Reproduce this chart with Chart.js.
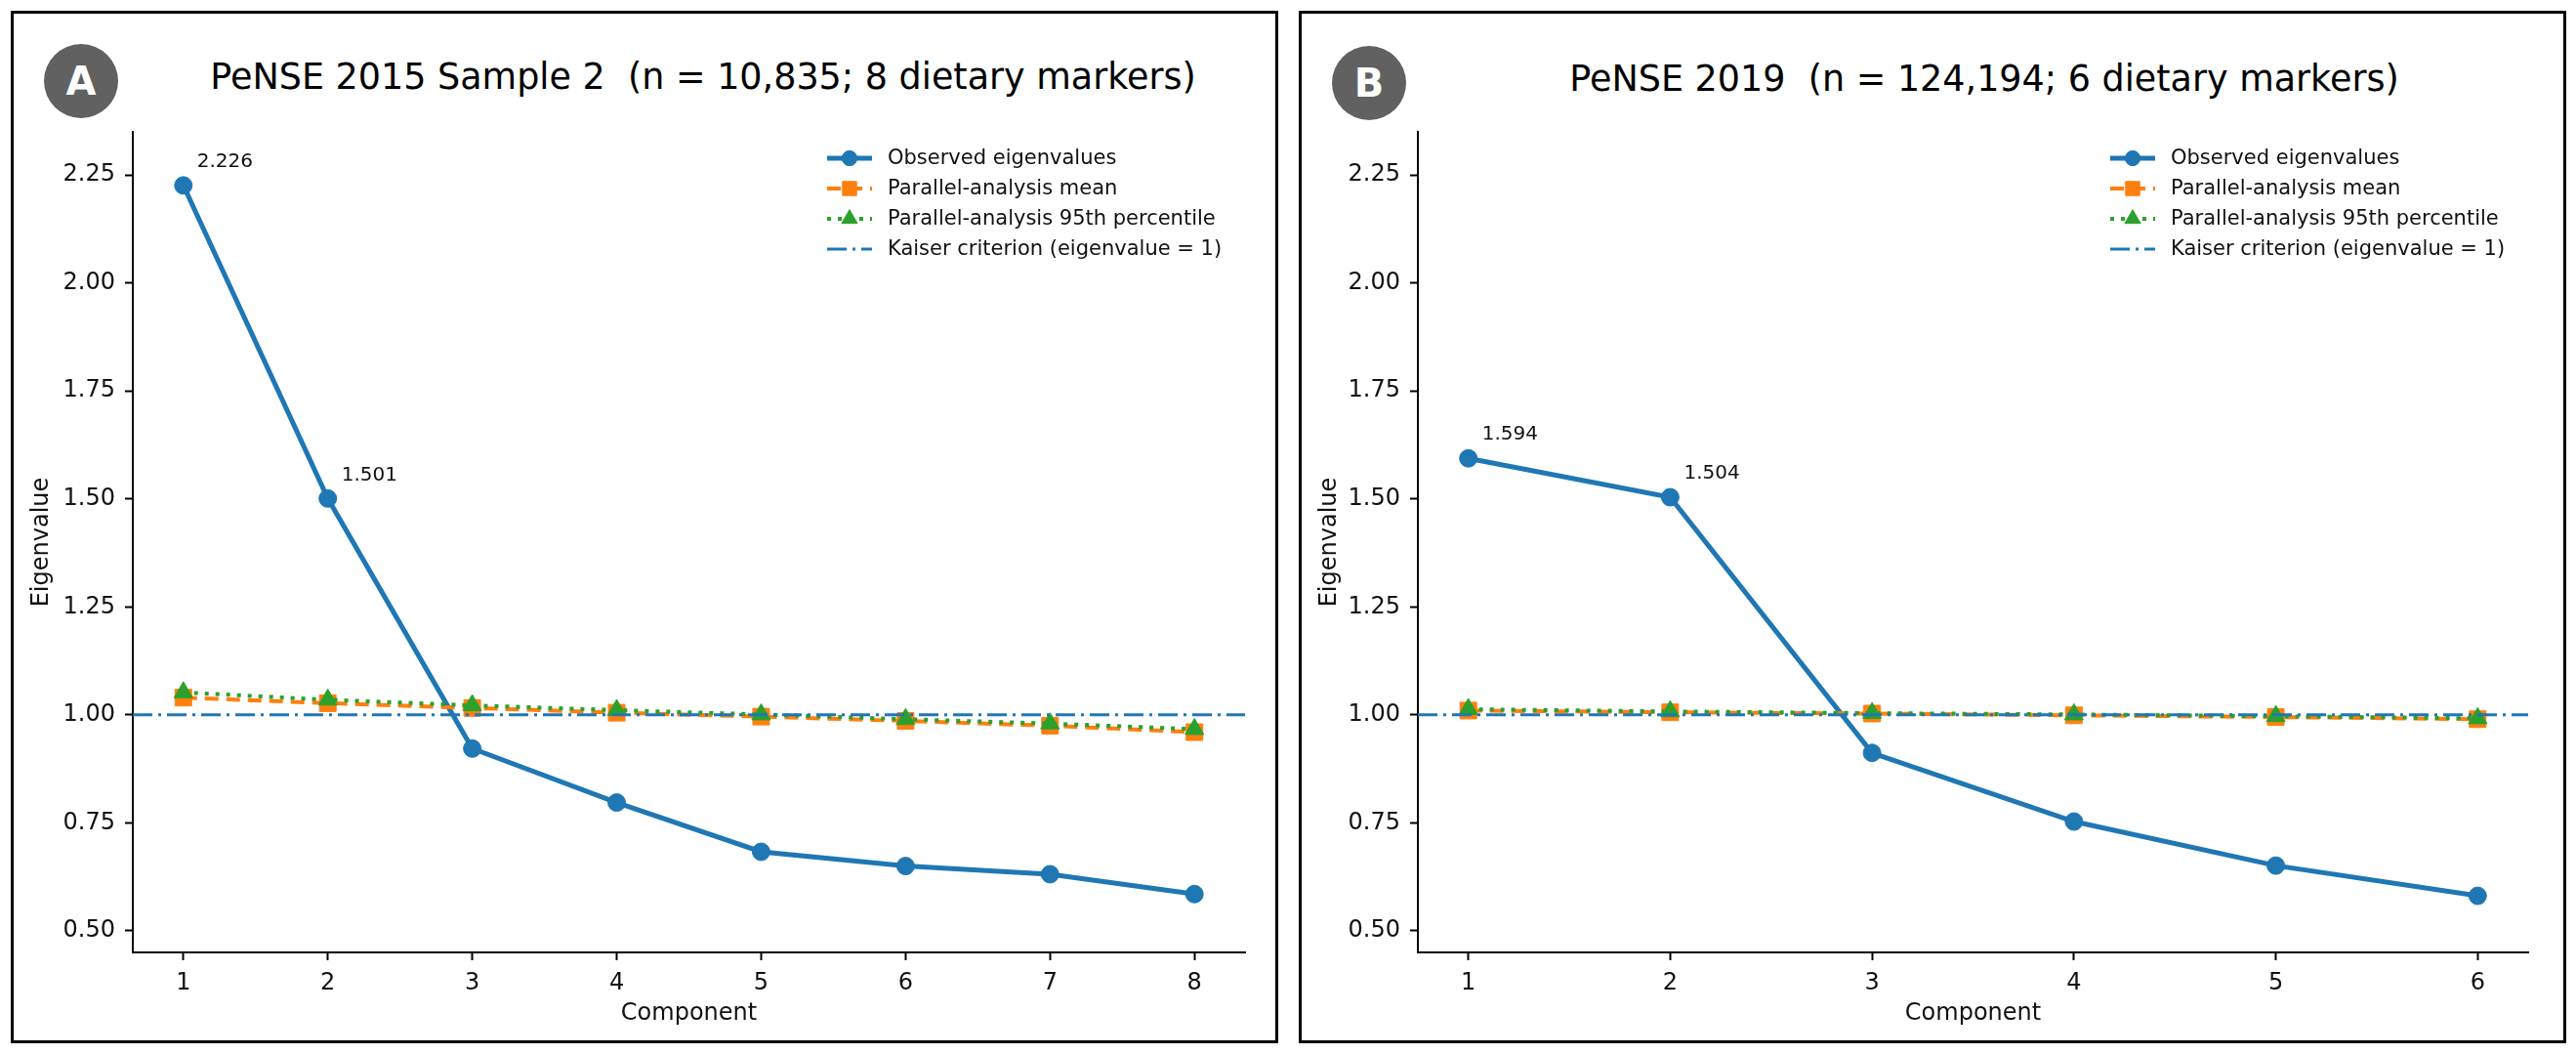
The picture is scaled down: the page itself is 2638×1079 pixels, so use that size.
<!DOCTYPE html>
<html>
<head>
<meta charset="utf-8">
<script src="https://cdn.jsdelivr.net/npm/chart.js@4.4.0/dist/chart.umd.min.js"></script>
<style>
  body { margin: 0; background: #fff; font-family: "DejaVu Sans", sans-serif; }
  .panel { position: absolute; top: 11px; width: 1292px; height: 1051px; border: 3px solid #000; background: #fff; }
  .panel canvas { position: absolute; left: 0; top: 0; }
  .badge { position: absolute; width: 76px; height: 76px; border-radius: 50%; background: #616161;
           color: #fff; font-weight: bold; font-size: 40px; display: flex; align-items: center; justify-content: center; }
  .title { position: absolute; font-size: 36.5px; line-height: 40px; white-space: nowrap; color: #000; transform: translateX(-50%); }
</style>
</head>
<body>
<div class="panel" id="panelA" style="left:11px">
  <div class="badge" style="left:31px; top:31px">A</div>
  <div class="title" style="left:706px; top:45px">PeNSE 2015 Sample 2&nbsp; (n = 10,835; 8 dietary markers)</div>
  <canvas id="chartA" width="1292" height="1051"></canvas>
</div>
<div class="panel" id="panelB" style="left:1330px">
  <div class="badge" style="left:31px; top:33px">B</div>
  <div class="title" style="left:699px; top:47px">PeNSE 2019&nbsp; (n = 124,194; 6 dietary markers)</div>
  <canvas id="chartB" width="1292" height="1051"></canvas>
</div>
<script>
// panel A: PeNSE 2015 sample 2, 8 markers
const componentsA = [1, 2, 3, 4, 5, 6, 7, 8];
const observedA = [2.226, 1.501, 0.922, 0.797, 0.683, 0.650, 0.631, 0.585];
const paMeanA = [1.040, 1.027, 1.016, 1.005, 0.996, 0.986, 0.975, 0.960];
const pa95A = [1.052, 1.035, 1.022, 1.011, 1.001, 0.990, 0.980, 0.967];

// panel B: PeNSE 2019, 6 markers
const componentsB = [1, 2, 3, 4, 5, 6];
const observedB = [1.594, 1.504, 0.912, 0.753, 0.651, 0.581];
const paMeanB = [1.010, 1.006, 1.003, 0.999, 0.995, 0.990];
const pa95B = [1.013, 1.008, 1.004, 1.001, 0.997, 0.992];

const kaiser = 1;
const yTicks = [0.50, 0.75, 1.00, 1.25, 1.50, 1.75, 2.00, 2.25];
const yMin = 0.45, yMax = 2.35;
const seriesNames = ['Observed eigenvalues', 'Parallel-analysis mean',
  'Parallel-analysis 95th percentile', 'Kaiser criterion (eigenvalue = 1)'];

Chart.defaults.font.family = '"DejaVu Sans", sans-serif';
Chart.defaults.color = '#000';

const tickFont = { size: 24 };

// matplotlib-style legend: line + marker, drawn inside the axes (upper right)
const mplLegend = {
  id: 'mplLegend',
  afterDatasetsDraw(chart) {
    const { ctx, chartArea } = chart;
    const textX = chartArea.right - 366;
    let y = chartArea.top + 27;
    ctx.save();
    chart.data.datasets.forEach(ds => {
      ctx.strokeStyle = ds.borderColor;
      ctx.fillStyle = ds.borderColor;
      ctx.lineWidth = ds.borderWidth;
      ctx.setLineDash(ds.borderDash || []);
      ctx.beginPath();
      ctx.moveTo(textX - 62, y);
      ctx.lineTo(textX - 16, y);
      ctx.stroke();
      ctx.setLineDash([]);
      if (ds.pointRadius > 0) {
        ctx.lineWidth = 1;
        Chart.helpers.drawPoint(ctx, { pointStyle: ds.pointStyle, radius: ds.pointRadius * 0.85, rotation: 0, borderWidth: 1 }, textX - 39, y);
      }
      ctx.font = '21px "DejaVu Sans"';
      ctx.textBaseline = 'middle';
      ctx.textAlign = 'left';
      ctx.fillStyle = '#111';
      ctx.fillText(ds.label, textX, y + 1);
      y += 31;
    });
    ctx.restore();
  }
};

// value labels for the retained components (eigenvalue above the Kaiser line)
const valueLabels = {
  id: 'valueLabels',
  afterDatasetsDraw(chart) {
    const { ctx } = chart;
    const meta = chart.getDatasetMeta(0);
    const data = chart.data.datasets[0].data;
    ctx.save();
    ctx.font = '20px "DejaVu Sans"';
    ctx.fillStyle = '#111';
    ctx.textBaseline = 'middle';
    ctx.textAlign = 'left';
    meta.data.forEach((el, i) => {
      if (data[i].y > kaiser) ctx.fillText(data[i].y.toFixed(3), el.x + 14, el.y - 24);
    });
    ctx.restore();
  }
};

function makeChart(id, components, observed, paMean, pa95, pad, yWidth) {
  const margin = (components.length - 1) * 0.05;
  const xMin = components[0] - margin;
  const xMax = components[components.length - 1] + margin;
  const pts = arr => arr.map((v, i) => ({ x: components[i], y: v }));
  return new Chart(document.getElementById(id), {
    type: 'line',
    data: {
      datasets: [
        { label: seriesNames[0], data: pts(observed), borderColor: '#1f77b4', backgroundColor: '#1f77b4',
          borderWidth: 5, pointStyle: 'circle', pointRadius: 9, pointBorderWidth: 1, order: 4 },
        { label: seriesNames[1], data: pts(paMean), borderColor: '#ff7f0e', backgroundColor: '#ff7f0e',
          borderWidth: 4, borderDash: [14, 8], pointStyle: 'rect', pointRadius: 12, pointBorderWidth: 1, order: 3 },
        { label: seriesNames[2], data: pts(pa95), borderColor: '#2ca02c', backgroundColor: '#2ca02c',
          borderWidth: 4, borderDash: [4, 7], pointStyle: 'triangle', pointRadius: 11, pointBorderWidth: 1, order: 2 },
        { label: seriesNames[3], data: [{ x: xMin, y: kaiser }, { x: xMax, y: kaiser }], borderColor: '#1f77b4',
          borderWidth: 3, borderDash: [20, 6, 3, 6], pointRadius: 0, order: 1 }
      ]
    },
    options: {
      responsive: false,
      devicePixelRatio: 1,
      animation: false,
      layout: { padding: pad },
      plugins: { legend: { display: false }, tooltip: { enabled: false } },
      elements: { line: { tension: 0, fill: false } },
      scales: {
        x: {
          type: 'linear', min: xMin, max: xMax,
          afterBuildTicks: s => { s.ticks = components.map(v => ({ value: v })); },
          afterFit: s => { s.height = 77; },
          ticks: { font: tickFont, color: '#111', padding: 9, maxRotation: 0, autoSkip: false, callback: v => String(v) },
          grid: { drawOnChartArea: false, drawTicks: true, tickLength: 8, tickColor: '#000', tickWidth: 2 },
          border: { display: true, color: '#000', width: 2 },
          title: { display: true, text: 'Component', font: tickFont, color: '#111', padding: 0 }
        },
        y: {
          type: 'linear', min: yMin, max: yMax,
          afterBuildTicks: s => { s.ticks = yTicks.map(v => ({ value: v })); },
          afterFit: s => { s.width = yWidth; },
          ticks: { font: tickFont, color: '#111', padding: 10, callback: v => v.toFixed(2) },
          grid: { drawOnChartArea: false, drawTicks: true, tickLength: 8, tickColor: '#000', tickWidth: 2 },
          border: { display: true, color: '#000', width: 2 },
          title: { display: true, text: 'Eigenvalue', font: tickFont, color: '#111', padding: 0 }
        }
      }
    },
    plugins: [valueLabels, mplLegend]
  });
}

makeChart('chartA', componentsA, observedA, paMeanA, pa95A, { left: 14, right: 31, top: 121, bottom: 13 }, 108);
makeChart('chartB', componentsB, observedB, paMeanB, pa95B, { left: 14, right: 36, top: 121, bottom: 13 }, 105);
</script>
</body>
</html>
